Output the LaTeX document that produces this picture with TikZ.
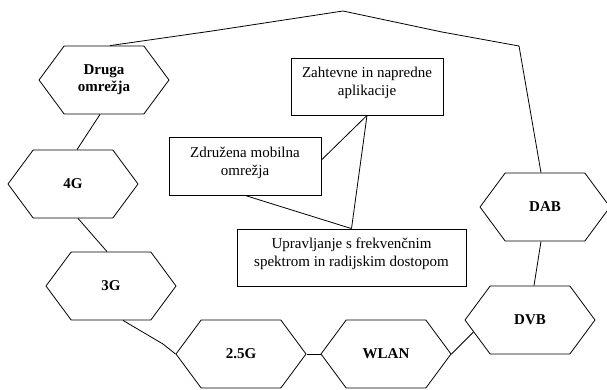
\documentclass[tikz,border=0pt]{standalone}
\usepackage{fontspec}
\setmainfont{Liberation Serif}
\usetikzlibrary{shapes.symbols,positioning,calc}

\begin{document}
\begin{tikzpicture}[x=1pt, y=-1pt, line width=0.8pt,
  hexa/.style={draw, signal, signal to=east and west, signal pointer angle=107,
    minimum width=130pt, minimum height=68pt, inner sep=0pt, align=center,
    font=\bfseries\fontsize{15}{17}\selectfont},
  box/.style={draw, rectangle, inner sep=0pt, align=center, text depth=10pt,
    font=\fontsize{15}{18}\selectfont}]
  \useasboundingbox (0,0) rectangle (607,389);

  % Networks
  \node[hexa] (druga) at (104,80) {Druga\\omrežja};
  \node[hexa] (g4) at (73,184) {4G};
  \node[hexa] (g3) at (111,286) {3G};
  \node[hexa] (g25) at (241,354) {2.5G};
  \node[hexa] (wlan) at (386,354) {WLAN};
  \node[hexa] (dvb) at (530,320) {DVB};
  \node[hexa] (dab) at (545,207) {DAB};

  % Topics
  \node[box, minimum width=152pt, minimum height=57pt] (apps) at (367,86.5)
    {Zahtevne in napredne\\aplikacije};
  \node[box, minimum width=152pt, minimum height=58pt] (zdruz) at (245,166)
    {Združena mobilna\\omrežja};
  \node[box, minimum width=229pt, minimum height=57pt] (uprav) at (351.5,257.5)
    {Upravljanje s frekvenčnim\\spektrom in radijskim dostopom};

  % Bends
  \coordinate (t1) at (212,31);
  \coordinate (t2) at (343,11);
  \coordinate (t3) at (442,32);
  \coordinate (t4) at (519,46);
  \coordinate (b1) at (163,344);

  % Ring
  \draw ([xshift=6pt]druga.north) -- (t1) -- (t2) -- (t3) -- (t4)
    -- ([xshift=-4pt]dab.north);
  \draw ([xshift=-4pt]druga.south) -- ([xshift=4pt]g4.north);
  \draw ([xshift=5pt]g4.south) -- ([xshift=-4pt]g3.north);
  \draw ([xshift=12pt]g3.south) -- (b1) -- (g25.west);
  \draw (g25.east) -- (wlan.west);
  \draw (wlan.east) -- (dvb.192);
  \draw ([xshift=4pt]dvb.north) -- ([xshift=-4pt]dab.south);

  % Triangle
  \draw (apps.south) -- ([yshift=6pt]zdruz.east);
  \draw (apps.south) -- (uprav.north);
  \draw (zdruz.south) -- (uprav.north);
\end{tikzpicture}
\end{document}
